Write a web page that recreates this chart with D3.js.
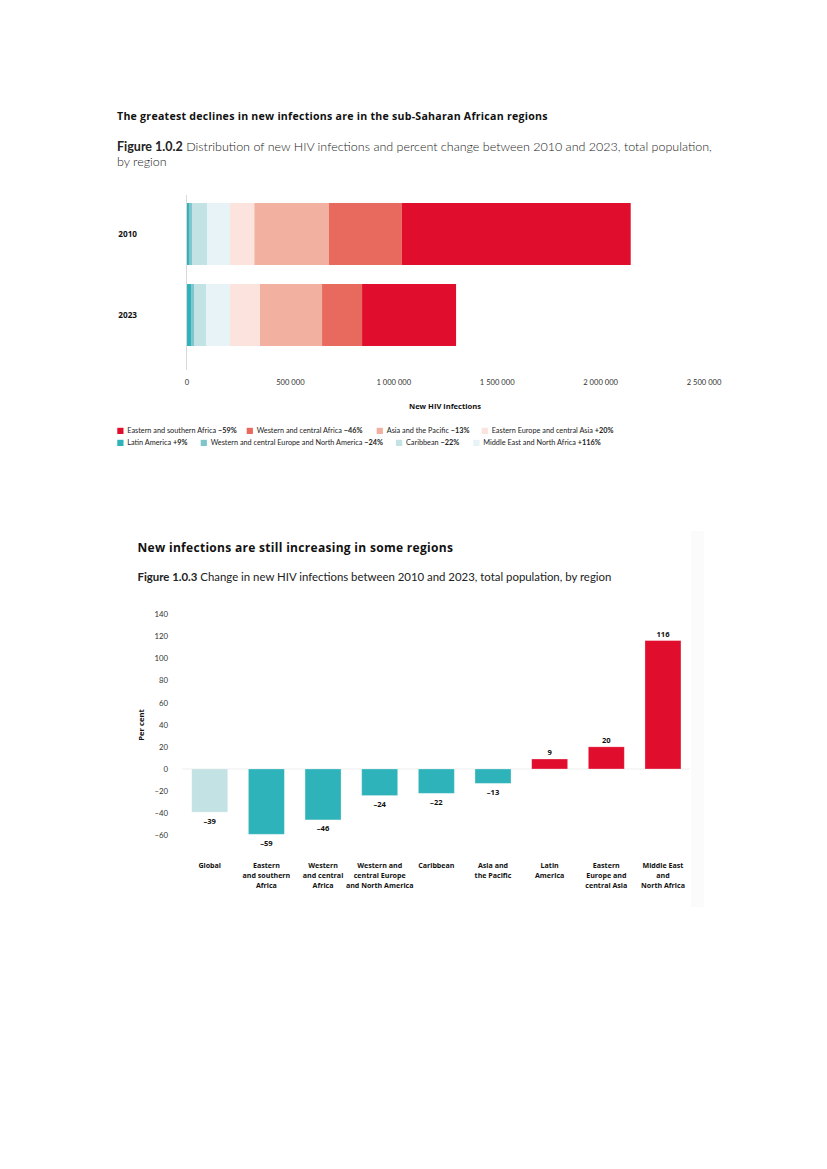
<!DOCTYPE html>
<html>
<head>
<meta charset="utf-8">
<script src="https://cdn.jsdelivr.net/npm/d3@7"></script>
<style>
  html, body { margin: 0; padding: 0; background: #fff; }
  svg { display: block; font-family: Lato, "Open Sans", sans-serif; }
</style>
</head>
<body>
<svg id="page" width="827" height="1169"></svg>
<script>
// ---------------- DATA: Figure 1.0.2 ----------------
const years = ["2010", "2023"];
// series in stacking order (left to right) (new HIV infections)
const seriesNames = [
  "Latin America",
  "Western and central Europe and North America",
  "Caribbean",
  "Middle East and North Africa",
  "Eastern Europe and central Asia",
  "Asia and the Pacific",
  "Western and central Africa",
  "Eastern and southern Africa"
];
const values2010 = [12000, 14500, 74000, 110000, 117500, 360000, 353000, 1107000];
const values2023 = [22000, 14500, 59500, 114500, 145000, 300000, 193500, 454500];
const seriesColors = ["#2fb3bb", "#7fc6cc", "#c2e2e4", "#e8f3f8", "#fde3dd", "#f2b0a0", "#e86a5e", "#e00d2d"];
const xTicks1 = [0, 500000, 1000000, 1500000, 2000000, 2500000];

// legend (order as in picture)
const legendNames = [
  "Eastern and southern Africa", "Western and central Africa", "Asia and the Pacific", "Eastern Europe and central Asia",
  "Latin America", "Western and central Europe and North America", "Caribbean", "Middle East and North Africa"
];
const legendChanges = ["\u221259%", "\u221246%", "\u221213%", "+20%", "+9%", "\u221224%", "\u221222%", "+116%"];

// ---------------- DATA: Figure 1.0.3 ----------------
const categories = [
  "Global", "Eastern and southern Africa", "Western and central Africa",
  "Western and central Europe and North America", "Caribbean", "Asia and the Pacific",
  "Latin America", "Eastern Europe and central Asia", "Middle East and North Africa"
];
const categoryLines = [
  ["Global"],
  ["Eastern", "and southern", "Africa"],
  ["Western", "and central", "Africa"],
  ["Western and", "central Europe", "and North America"],
  ["Caribbean"],
  ["Asia and", "the Pacific"],
  ["Latin", "America"],
  ["Eastern", "Europe and", "central Asia"],
  ["Middle East", "and", "North Africa"]
];
const percentChange = [-39, -59, -46, -24, -22, -13, 9, 20, 116];
const yTicks2 = [-60, -40, -20, 0, 20, 40, 60, 80, 100, 120, 140];

// ---------------- DRAW ----------------
const svg = d3.select("#page");
const fmtMinus = v => (v < 0 ? "\u2013" + Math.abs(v) : String(v));
const BOLD = "'Open Sans', Lato, sans-serif";

// ===== Figure 1.0.2 =====
svg.append("text").attr("x", 117).attr("y", 120)
  .attr("font-family", BOLD).attr("font-size", 10.6).attr("font-weight", 700).attr("fill", "#111")
  .attr("letter-spacing", 0.25)
  .text("The greatest declines in new infections are in the sub-Saharan African regions");

const cap1 = svg.append("text").attr("x", 117).attr("y", 151).attr("font-size", 12.5).attr("fill", "#222");
cap1.append("tspan").attr("font-weight", 700).text("Figure 1.0.2");
cap1.append("tspan").attr("font-weight", 300).text(" Distribution of new HIV infections and percent change between 2010 and 2023, total population,");
svg.append("text").attr("x", 117).attr("y", 166).attr("font-size", 12.5).attr("font-weight", 300).attr("fill", "#222")
  .text("by region");

const x1 = d3.scaleLinear().domain([0, 2500000]).range([186.5, 703.5]);
const y1 = d3.scaleBand().domain(years).range([193.5, 355.5]).paddingInner(0.235).paddingOuter(0.1175);

const rows = years.map((yr, i) => {
  const o = { year: yr };
  const vals = i === 0 ? values2010 : values2023;
  seriesNames.forEach((s, j) => { o[s] = vals[j]; });
  return o;
});
const stack = d3.stack().keys(seriesNames)(rows);
const color1 = d3.scaleOrdinal().domain(seriesNames).range(seriesColors);

const g1 = svg.append("g");
g1.selectAll("g.series").data(stack).join("g")
  .attr("fill", d => color1(d.key))
  .selectAll("rect").data(d => d).join("rect")
  .attr("x", d => x1(d[0]))
  .attr("width", d => x1(d[1]) - x1(d[0]))
  .attr("y", d => y1(d.data.year))
  .attr("height", y1.bandwidth());

// axis baseline (vertical)
g1.append("line").attr("x1", x1(0)).attr("x2", x1(0)).attr("y1", 195).attr("y2", 370)
  .attr("stroke", "#d9d9d9").attr("stroke-width", 1);

// year labels
const yAxis1 = d3.axisLeft(y1).tickSize(0).tickPadding(0);
const ya = svg.append("g").attr("transform", "translate(137,0)").call(yAxis1);
ya.select(".domain").remove();
ya.selectAll("text").attr("font-size", 8.2).attr("font-weight", 700).attr("fill", "#111")
  .attr("font-family", BOLD);

// x axis ticks
const xAxis1 = d3.axisBottom(x1).tickValues(xTicks1).tickSize(0).tickPadding(0)
  .tickFormat(d => d3.format(",")(d).replace(/,/g, " "));
const xa = svg.append("g").attr("transform", "translate(0,380)").call(xAxis1);
xa.select(".domain").remove();
xa.selectAll("text").attr("font-size", 7.6).attr("fill", "#333").attr("font-family", "Lato, sans-serif");

svg.append("text").attr("x", 445).attr("y", 409).attr("text-anchor", "middle")
  .attr("font-family", BOLD).attr("font-size", 7.6).attr("font-weight", 700).attr("fill", "#111").text("New HIV infections");

// legend
const legendPos = [[117.3, 431], [246.7, 431], [376.7, 431], [481.7, 431],
                   [117.3, 443], [200.7, 443], [396, 443], [473.3, 443]];
legendNames.forEach((name, i) => {
  const [lx, ly] = legendPos[i];
  svg.append("rect").attr("x", lx).attr("y", ly - 3.2).attr("width", 6.2).attr("height", 6.2)
    .attr("fill", color1(name));
  const t = svg.append("text").attr("x", lx + 10).attr("y", ly + 2.4).attr("font-size", 7.3).attr("fill", "#222");
  t.append("tspan").text(name + " ");
  t.append("tspan").attr("font-weight", 700).text(legendChanges[i]);
});

// ===== Figure 1.0.3 =====
// faint scanned shading at right edge
svg.append("rect").attr("x", 691).attr("y", 531).attr("width", 13).attr("height", 376).attr("fill", "#fbfbfb");

svg.append("text").attr("x", 137.5).attr("y", 552)
  .attr("font-family", BOLD).attr("font-size", 12).attr("font-weight", 700).attr("fill", "#111")
  .attr("letter-spacing", 0.3)
  .text("New infections are still increasing in some regions");
const cap2 = svg.append("text").attr("x", 137.5).attr("y", 581).attr("font-size", 11.4).attr("fill", "#222");
cap2.append("tspan").attr("font-weight", 700).text("Figure 1.0.3");
cap2.append("tspan").text(" Change in new HIV infections between 2010 and 2023, total population, by region");

const x2 = d3.scaleBand().domain(categories).range([181.4, 691.3]).paddingInner(0.365).paddingOuter(0.1825);
const y2 = d3.scaleLinear().domain([-60, 140]).range([835.4, 614]);

// zero line
svg.append("line").attr("x1", 182).attr("x2", 690).attr("y1", y2(0)).attr("y2", y2(0))
  .attr("stroke", "#eeeeee").attr("stroke-width", 1);

// y axis
const yAxis2 = d3.axisLeft(y2).tickValues(yTicks2).tickSize(0).tickPadding(0).tickFormat(fmtMinus);
const yb = svg.append("g").attr("transform", "translate(168,0)").call(yAxis2);
yb.select(".domain").remove();
yb.selectAll("text").attr("font-size", 7.8).attr("fill", "#333").attr("font-family", "Lato, sans-serif");

svg.append("text").attr("transform", "translate(144,725) rotate(-90)").attr("text-anchor", "middle")
  .attr("font-family", BOLD).attr("font-size", 7.6).attr("font-weight", 700).attr("fill", "#111").text("Per cent");

const barColor = (d, i) => i === 0 ? "#c2e2e4" : (d < 0 ? "#2fb3bb" : "#e00d2d");
const barData = categories.map((c, i) => ({ cat: c, v: percentChange[i], i }));

svg.append("g").selectAll("rect").data(barData).join("rect")
  .attr("x", d => x2(d.cat))
  .attr("width", x2.bandwidth())
  .attr("y", d => Math.min(y2(d.v), y2(0)))
  .attr("height", d => Math.abs(y2(d.v) - y2(0)))
  .attr("fill", d => barColor(d.v, d.i))
  .attr("stroke", "#ffffff").attr("stroke-opacity", 0.35).attr("stroke-width", 0.8);

svg.append("g").selectAll("text").data(barData).join("text")
  .attr("x", d => x2(d.cat) + x2.bandwidth() / 2)
  .attr("y", d => d.v < 0 ? y2(d.v) + 11.5 : y2(d.v) - 4)
  .attr("text-anchor", "middle").attr("font-family", BOLD)
  .attr("font-size", 7.6).attr("font-weight", 700).attr("fill", "#111")
  .text(d => fmtMinus(d.v));

// category labels
const catG = svg.append("g");
barData.forEach(d => {
  const t = catG.append("text").attr("x", x2(d.cat) + x2.bandwidth() / 2).attr("y", 868)
    .attr("text-anchor", "middle").attr("font-family", BOLD)
    .attr("font-size", 7.1).attr("font-weight", 700).attr("fill", "#111");
  categoryLines[d.i].forEach((ln, k) => {
    t.append("tspan").attr("x", x2(d.cat) + x2.bandwidth() / 2).attr("dy", k === 0 ? 0 : 10.2).text(ln);
  });
});
</script>
</body>
</html>
